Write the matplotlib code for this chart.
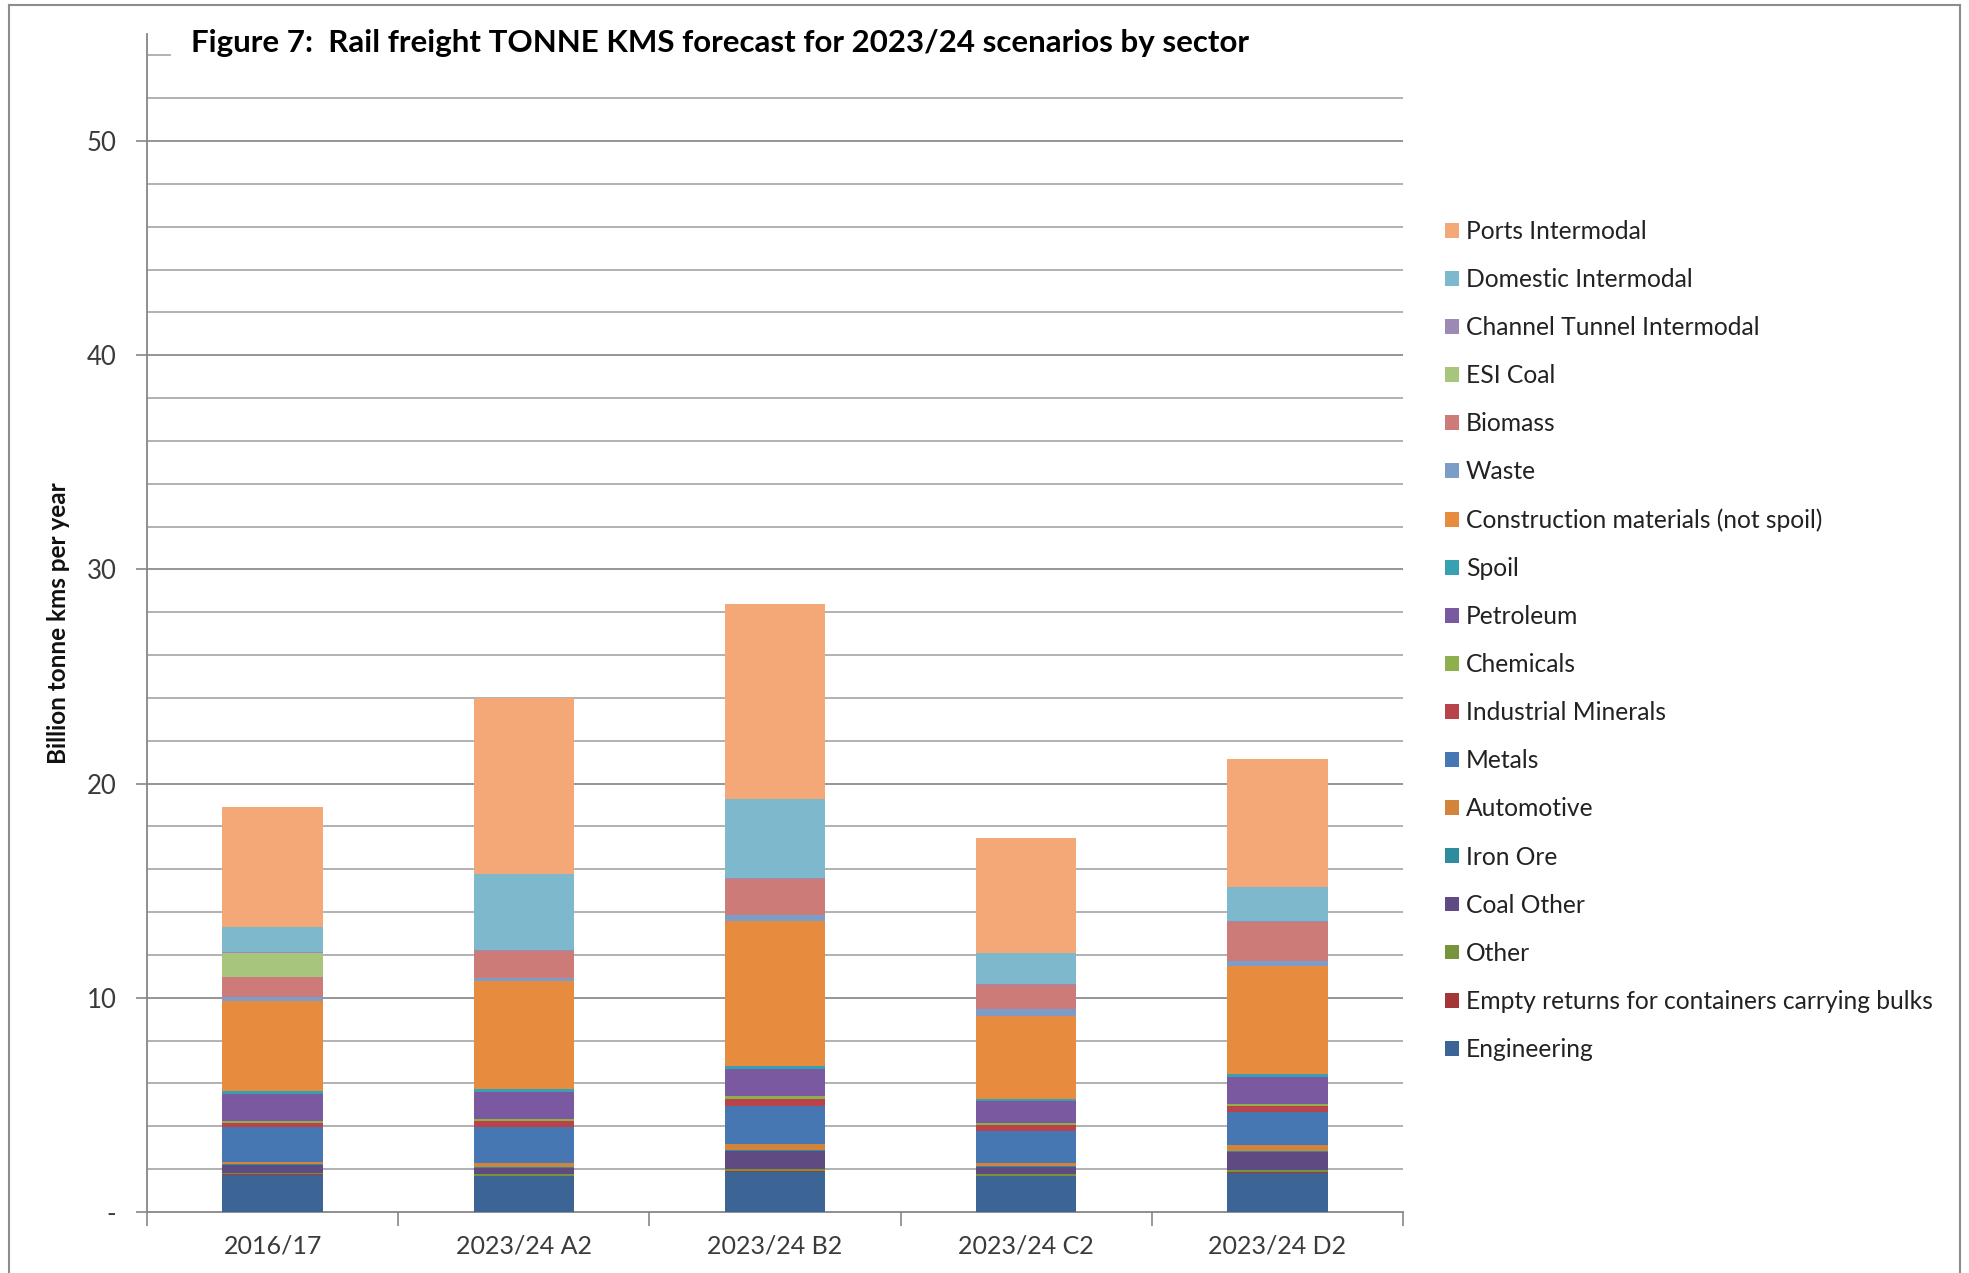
import matplotlib
matplotlib.use("Agg")
import matplotlib.pyplot as plt
from matplotlib.patches import Patch
from matplotlib.lines import Line2D
import numpy as np

plt.rcParams['font.family'] = ['Lato', 'DejaVu Sans']

categories = ["2016/17", "2023/24 A2", "2023/24 B2", "2023/24 C2", "2023/24 D2"]

# sectors bottom-to-top (stack order)
sectors = [
    "Engineering",
    "Empty returns for containers carrying bulks",
    "Other",
    "Coal Other",
    "Iron Ore",
    "Automotive",
    "Metals",
    "Industrial Minerals",
    "Chemicals",
    "Petroleum",
    "Spoil",
    "Construction materials (not spoil)",
    "Waste",
    "Biomass",
    "ESI Coal",
    "Channel Tunnel Intermodal",
    "Domestic Intermodal",
    "Ports Intermodal",
]

engineering   = [1.74, 1.66, 1.87, 1.66, 1.83]
empty_returns = [0.03, 0.04, 0.04, 0.04, 0.04]
other         = [0.05, 0.07, 0.08, 0.06, 0.11]
coal_other    = [0.38, 0.30, 0.85, 0.33, 0.82]
iron_ore      = [0.04, 0.05, 0.05, 0.04, 0.05]
automotive    = [0.10, 0.18, 0.29, 0.15, 0.30]
metals        = [1.61, 1.65, 1.77, 1.48, 1.51]
ind_minerals  = [0.22, 0.28, 0.33, 0.28, 0.27]
chemicals     = [0.10, 0.12, 0.12, 0.12, 0.12]
petroleum     = [1.26, 1.25, 1.26, 1.01, 1.24]
spoil         = [0.14, 0.15, 0.16, 0.11, 0.15]
construction  = [4.16, 5.05, 6.78, 3.88, 5.05]
waste         = [0.23, 0.12, 0.29, 0.31, 0.23]
biomass       = [0.91, 1.28, 1.67, 1.12, 1.82]
esi_coal      = [1.12, 0.00, 0.00, 0.00, 0.00]
channel       = [0.05, 0.05, 0.05, 0.04, 0.04]
domestic      = [1.15, 3.54, 3.68, 1.48, 1.59]
ports         = [5.62, 8.20, 9.11, 5.34, 5.99]

series = [engineering, empty_returns, other, coal_other, iron_ore, automotive,
          metals, ind_minerals, chemicals, petroleum, spoil, construction,
          waste, biomass, esi_coal, channel, domestic, ports]

colors = [
    "#3C6494",  # Engineering
    "#A53638",  # Empty returns
    "#77933C",  # Other
    "#5F4A82",  # Coal Other
    "#2E8C9E",  # Iron Ore
    "#D2853A",  # Automotive
    "#4777B2",  # Metals
    "#B8434A",  # Industrial Minerals
    "#8DB04C",  # Chemicals
    "#7A59A0",  # Petroleum
    "#37A0B2",  # Spoil
    "#E78B3E",  # Construction
    "#7D9DC9",  # Waste
    "#CD7B79",  # Biomass
    "#A8C67B",  # ESI Coal
    "#9C8AB5",  # Channel Tunnel
    "#7DB8CC",  # Domestic
    "#F5A877",  # Ports
]

W, H = 1969, 1273
fig = plt.figure(figsize=(W / 100, H / 100), dpi=100)
fig.patch.set_facecolor("white")

ax_left = 147 / W
ax_right = 1403 / W
ax_bottom = (H - 1212) / H
ax_top = (H - 34) / H
ax = fig.add_axes([ax_left, ax_bottom, ax_right - ax_left, ax_top - ax_bottom])

x = np.arange(len(categories))
bottom = np.zeros(len(categories))
for vals, col, name in zip(series, colors, sectors):
    v = np.array(vals)
    ax.bar(x, v, width=0.4, bottom=bottom, color=col, edgecolor="none",
           label=name, zorder=3)
    bottom += v

ax.set_xlim(-0.5, len(categories) - 0.5)
ax.set_ylim(0, 55)

# gridlines every 2 units up to 52
for gy in np.arange(2, 53, 2):
    ax.axhline(gy, color="#ABABAB" if gy % 10 else "#8C8C8C", lw=1.3, zorder=1)
ax.axhline(54, xmax=0.018, color="#ABABAB", lw=1.3, zorder=1)

# y ticks
ax.set_yticks([0, 10, 20, 30, 40, 50])
ax.set_yticklabels(["-", "10", "20", "30", "40", "50"])
ax.tick_params(axis="y", direction="out", length=8, width=1.2, color="#868686",
               labelsize=18.5, labelcolor="#3A3A3A", pad=14)

# x ticks: labels at centres, tick marks at boundaries
ax.set_xticks(x)
ax.set_xticklabels(categories)
ax.tick_params(axis="x", length=0, labelsize=18, labelcolor="#3A3A3A", pad=16)
ax.set_xticks(np.arange(-0.5, len(categories), 1.0), minor=True)
ax.tick_params(axis="x", which="minor", direction="out", length=10, width=1.2,
               color="#868686")

for s in ["top", "right"]:
    ax.spines[s].set_visible(False)
ax.spines["left"].set_color("#868686")
ax.spines["bottom"].set_color("#868686")
ax.spines["left"].set_linewidth(1.3)
ax.spines["bottom"].set_linewidth(1.3)

ax.set_ylabel("Billion tonne kms per year", fontsize=17.5, fontweight="bold",
              color="#111111", labelpad=12)

fig.text(191 / W, 1 - 43 / H,
         "Figure 7:  Rail freight TONNE KMS forecast for 2023/24 scenarios by sector",
         fontsize=22.5, fontweight="bold", color="#000000", ha="left", va="center")

# legend (top to bottom = reverse stack order)
handles = [Patch(facecolor=c, edgecolor="none") for c in colors[::-1]]
labels = sectors[::-1]
fig.legend(handles, labels, loc="upper left", bbox_to_anchor=(1445 / W, 1 - 220 / H),
           bbox_transform=fig.transFigure, frameon=False, fontsize=17.7,
           handlelength=0.55, handleheight=0.55, handletextpad=0.3,
           labelspacing=1.02, borderpad=0, borderaxespad=0,
           labelcolor="#222222")

# outer frame
frame_col = "#8C8C8C"
fig.add_artist(Line2D([9 / W, 9 / W], [0, 1 - 5 / H], transform=fig.transFigure,
                      color=frame_col, lw=1.5))
fig.add_artist(Line2D([9 / W, 1960 / W], [1 - 5 / H, 1 - 5 / H],
                      transform=fig.transFigure, color=frame_col, lw=1.5))
fig.add_artist(Line2D([1960 / W, 1960 / W], [0, 1 - 5 / H],
                      transform=fig.transFigure, color=frame_col, lw=1.5))

fig.savefig("out.png", dpi=100)
